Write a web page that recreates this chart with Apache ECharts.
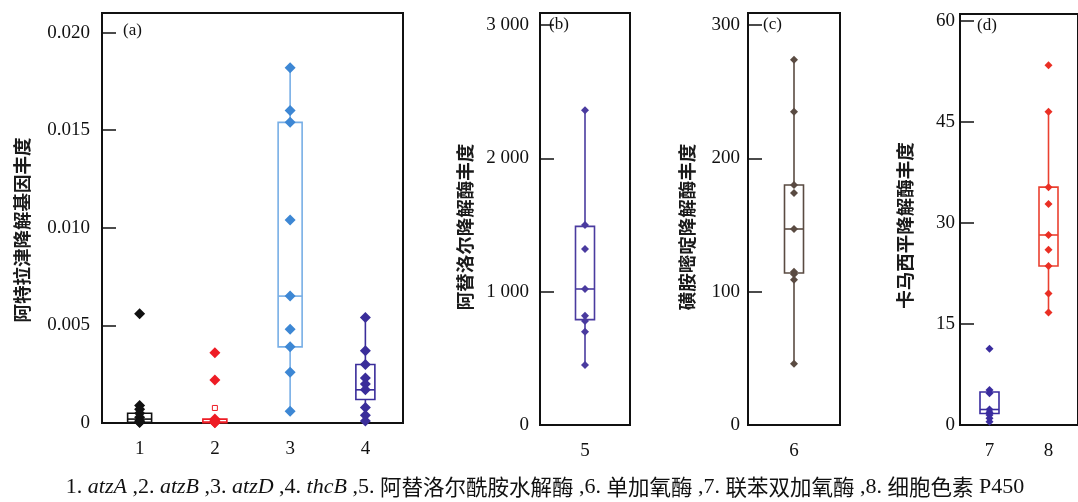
<!DOCTYPE html>
<html><head><meta charset="utf-8">
<script src="https://cdn.jsdelivr.net/npm/echarts@6/dist/echarts.min.js"></script>
<style>html,body{margin:0;padding:0;background:#fff}#c{width:1078px;height:502px}</style>
</head><body><div id="c"></div>
<script>
// ---------- data ----------
const catsA = ['1', '2', '3', '4'];
const catsB = ['5'];
const catsC = ['6'];
const catsD = ['7', '8'];

const points1 = [0.0056, 0.0009, 0.0007, 0.0005, 0.0003, 0.0001, 0.00005, 0.00002];
const points2 = [0.0036, 0.0022, 0.0002, 0.00012, 0.00008, 0.00005, 0.00002, 0.00001];
const points3 = [0.0182, 0.0160, 0.0154, 0.0104, 0.0065, 0.0048, 0.0039, 0.0026, 0.0006];
const points4 = [0.0054, 0.0037, 0.0030, 0.0023, 0.0020, 0.0017, 0.0008, 0.0004, 0.0001];
const points5 = [2360, 1500, 1320, 1020, 820, 780, 700, 450];
const points6 = [274, 235, 180, 174, 147, 115, 113, 109, 46];
const points7 = [11.3, 5.2, 4.7, 2.3, 1.9, 1.5, 1.0, 0.5];
const points8 = [53.4, 46.5, 35.3, 32.8, 28.2, 26.0, 23.6, 19.5, 16.7];

// [min, Q1, median, Q3, max]
const box1 = [0, 0.00003, 0.0002, 0.0005, 0.0009];
const box2 = [0, 0.00001, 0.00005, 0.0002, 0.0003];
const box3 = [0.0006, 0.0039, 0.0065, 0.0154, 0.0182];
const box4 = [0.0001, 0.0012, 0.0017, 0.0030, 0.0054];
const box5 = [450, 790, 1020, 1490, 2360];
const box6 = [46, 114, 147, 180, 274];
const box7 = [0.5, 1.7, 2.3, 4.9, 5.2];
const box8 = [16.7, 23.6, 28.2, 35.3, 46.5];
const mean2 = [0.00077];

const ticksA = [0, 0.005, 0.010, 0.015, 0.020];
const tickLabelsA = ['0', '0.005', '0.010', '0.015', '0.020'];
const ticksB = [0, 1000, 2000, 3000];
const tickLabelsB = ['0', '1 000', '2 000', '3 000'];
const ticksC = [0, 100, 200, 300];
const tickLabelsC = ['0', '100', '200', '300'];
const ticksD = [0, 15, 30, 45, 60];
const tickLabelsD = ['0', '15', '30', '45', '60'];

const yNameA = '阿特拉津降解基因丰度';
const yNameB = '阿替洛尔降解酶丰度';
const yNameC = '磺胺嘧啶降解酶丰度';
const yNameD = '卡马西平降解酶丰度';

// ---------- styles ----------
const ptColors = ['#111111', '#ee1c25', '#3d87d4', '#3a2d9a', '#4a3b9f', '#5a4b42', '#3a2c9e', '#ea2f24'];
const boxColors = ['#111111', '#ee1c25', '#77aee6', '#3a2d9a', '#4a3b9f', '#5a4b42', '#3a2c9e', '#ea4030'];
const boxWidths = [24, 24, 24, 19, 19, 19, 19, 19];

const serif = 'Liberation Serif';
const cjk = 'Noto Sans CJK SC';

const panels = [
  {cats: catsA, pts: [points1, points2, points3, points4], boxes: [box1, box2, box3, box4], gi: 0,
   ticks: ticksA, labels: tickLabelsA, name: yNameA, max: 0.021, interval: 0.005,
   grid: {left: 102, top: 13, width: 301, height: 410}, nameGap: 71, namePad: 24, labelMargin: 12, sym: 11},
  {cats: catsB, pts: [points5], boxes: [box5], gi: 4,
   ticks: ticksB, labels: tickLabelsB, name: yNameB, max: 3090, interval: 1000,
   grid: {left: 540, top: 13, width: 90, height: 412}, nameGap: 66, namePad: 16, labelMargin: 11, sym: 8},
  {cats: catsC, pts: [points6], boxes: [box6], gi: 5,
   ticks: ticksC, labels: tickLabelsC, name: yNameC, max: 309, interval: 100,
   grid: {left: 748, top: 13, width: 92, height: 412}, nameGap: 52, namePad: 16, labelMargin: 8, sym: 8},
  {cats: catsD, pts: [points7, points8], boxes: [box7, box8], gi: 6,
   ticks: ticksD, labels: tickLabelsD, name: yNameD, max: 61, interval: 15,
   grid: {left: 960, top: 14, width: 124, height: 411}, nameGap: 46, namePad: 12, labelMargin: 5, sym: 8}
];

const grids = [], xAxes = [], yAxes = [], series = [];
panels.forEach((p, k) => {
  grids.push(Object.assign({show: true, borderColor: '#111', borderWidth: 2, backgroundColor: 'transparent'}, p.grid));
  xAxes.push({
    type: 'category', gridIndex: k, data: p.cats, boundaryGap: true,
    axisLine: {lineStyle: {color: '#111', width: 2}},
    axisTick: {inside: true, alignWithLabel: true, length: 9, lineStyle: {color: '#111', width: 1.5}},
    axisLabel: {color: '#111', fontFamily: serif, fontSize: 19, margin: 17},
    splitLine: {show: false}
  });
  yAxes.push({
    type: 'value', gridIndex: k, min: 0, max: p.max, interval: p.interval,
    name: p.name, nameLocation: 'middle', nameRotate: 90, nameGap: p.nameGap,
    nameTextStyle: {fontFamily: cjk, fontWeight: 'bold', fontSize: 18.5, color: '#1a1a1a', padding: [0, p.namePad, 0, 0]},
    axisLine: {show: true, lineStyle: {color: '#111', width: 2}},
    axisTick: {show: true, inside: true, length: 14, customValues: p.ticks, lineStyle: {color: '#111', width: 1.5}},
    axisLabel: {color: '#111', fontFamily: serif, fontSize: 19, margin: p.labelMargin,
      customValues: p.ticks,
      formatter: function (v) {
        const i = p.ticks.findIndex(t => Math.abs(t - v) < 1e-9);
        return i >= 0 ? p.labels[i] : '';
      }},
    splitLine: {show: false}
  });
  // boxes
  series.push({
    type: 'custom', xAxisIndex: k, yAxisIndex: k, z: 2, silent: true,
    data: p.boxes.map((b, i) => [i].concat(b)),
    renderItem: function (params, api) {
      const gi = p.gi + params.dataIndex;
      const x = api.value(0);
      const pMin = api.coord([x, api.value(1)]);
      const pQ1 = api.coord([x, api.value(2)]);
      const pMed = api.coord([x, api.value(3)]);
      const pQ3 = api.coord([x, api.value(4)]);
      const pMax = api.coord([x, api.value(5)]);
      const hw = boxWidths[gi] / 2, cx = pMed[0];
      const st = {stroke: boxColors[gi], lineWidth: 1.6, fill: null};
      return {type: 'group', children: [
        {type: 'rect', shape: {x: cx - hw, y: pQ3[1], width: hw * 2, height: Math.max(pQ1[1] - pQ3[1], 1)}, style: Object.assign({}, st, {fill: 'rgba(255,255,255,0)'})},
        {type: 'line', shape: {x1: cx - hw, y1: pMed[1], x2: cx + hw, y2: pMed[1]}, style: st},
        {type: 'line', shape: {x1: cx, y1: pQ3[1], x2: cx, y2: pMax[1]}, style: st},
        {type: 'line', shape: {x1: cx, y1: pQ1[1], x2: cx, y2: pMin[1]}, style: st}
      ]};
    }
  });
  // points
  p.pts.forEach((arr, i) => {
    const gi = p.gi + i;
    series.push({
      type: 'scatter', xAxisIndex: k, yAxisIndex: k, z: 3, silent: true,
      symbol: 'diamond', symbolSize: p.sym,
      itemStyle: {color: ptColors[gi], opacity: 1},
      data: arr.map(v => [i, v])
    });
  });
});
// mean marker (group 2)
series.push({
  type: 'scatter', xAxisIndex: 0, yAxisIndex: 0, z: 4, silent: true,
  symbol: 'rect', symbolSize: 5,
  itemStyle: {color: '#fff', borderColor: ptColors[1], borderWidth: 1, opacity: 1},
  data: mean2.map(v => [1, v])
});

const panelTags = [
  {t: '(a)', x: 123, y: 31}, {t: '(b)', x: 549, y: 25}, {t: '(c)', x: 763, y: 25}, {t: '(d)', x: 977, y: 26}
];
const graphics = panelTags.map(g => ({
  type: 'text', x: g.x, y: g.y, z: 10,
  style: {text: g.t, font: '17px "' + serif + '"', fill: '#111', verticalAlign: 'middle', align: 'left'}
}));
graphics.push({
  type: 'text', x: 545, y: 487, z: 10,
  style: {
    text: '{n|1. }{i|atzA}{n| ,2. }{i|atzB}{n| ,3. }{i|atzD}{n| ,4. }{i|thcB}{n| ,5. }{c|阿替洛尔酰胺水解酶}{n| ,6. }{c|单加氧酶}{n| ,7. }{c|联苯双加氧酶}{n| ,8. }{c|细胞色素}{n| P450}',
    align: 'center', verticalAlign: 'middle',
    rich: {
      n: {fontFamily: serif, fontSize: 22, fill: '#111', color: '#111'},
      i: {fontFamily: serif, fontSize: 22, fontStyle: 'italic', fill: '#111', color: '#111'},
      c: {fontFamily: cjk, fontSize: 21.5, fill: '#111', color: '#111'}
    }
  }
});

const chart = echarts.init(document.getElementById('c'), null, {renderer: 'canvas'});
chart.setOption({
  animation: false,
  backgroundColor: '#ffffff',
  grid: grids, xAxis: xAxes, yAxis: yAxes, series: series, graphic: graphics
});
</script></body></html>
